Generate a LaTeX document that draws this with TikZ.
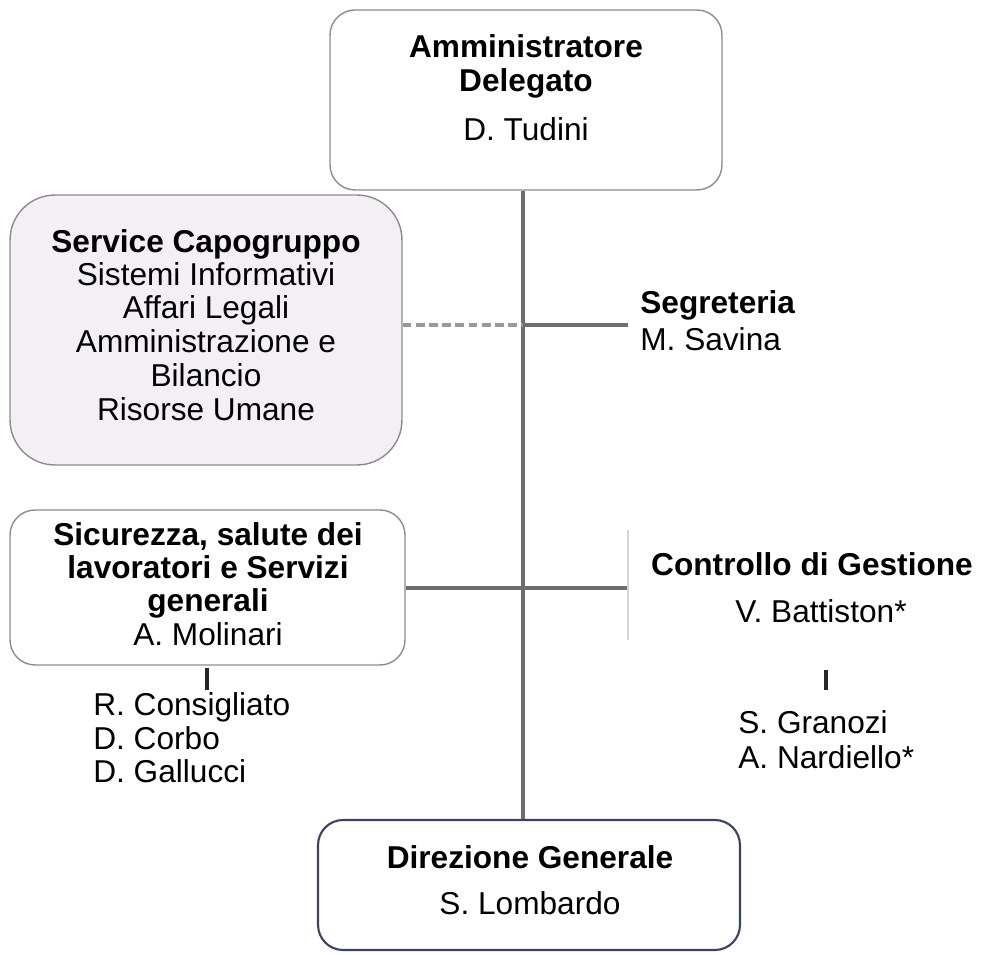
\documentclass[tikz,border=0pt]{standalone}
\usepackage{fontspec}
\setmainfont{Liberation Sans}
\definecolor{linegray}{HTML}{6E6E6E}
\definecolor{boxgray}{HTML}{8C8C8C}
\definecolor{faintgray}{HTML}{D4D4D4}
\definecolor{lav}{HTML}{F3EFF5}
\definecolor{navy}{HTML}{3C4262}
\begin{document}
\begin{tikzpicture}[x=0.02cm,y=-0.02cm,
  orgbox/.style={draw=boxgray, line width=0.8pt, rounded corners=0.5cm, inner sep=0pt},
  lbl/.style={anchor=base, inner sep=0pt, font=\fontsize{18}{19}\selectfont},
  lblb/.style={lbl, font=\fontsize{18}{19}\selectfont\bfseries},
  lbll/.style={lbl, anchor=base west},
  lblbl/.style={lblb, anchor=base west},
  conn/.style={draw=linegray, line width=1.8pt},
  dconn/.style={draw=linegray!70, line width=1.8pt, dash pattern=on 5pt off 2.5pt},
  tick/.style={draw=black!85, line width=2.2pt}]
\useasboundingbox (0,0) rectangle (994,955);

% boxes
\node[orgbox, minimum width=7.84cm, minimum height=3.6cm] (ad) at (526,100) {};
\node[orgbox, fill=lav, rounded corners=0.9cm, minimum width=7.84cm, minimum height=5.4cm] (sc) at (206,330) {};
\node[orgbox, minimum width=7.9cm, minimum height=3.1cm] (si) at (207.5,587.5) {};
\node[orgbox, draw=navy, line width=1.2pt, minimum width=8.44cm, minimum height=2.6cm] (dg) at (529,885) {};

% junctions
\coordinate (jA) at (523,325);
\coordinate (jB) at (523,588);
\coordinate (segL) at (628,325);
\coordinate (cgL) at (628,588);
\coordinate (cgTop) at (628,530);
\coordinate (cgBot) at (628,640);

% connectors
\draw[conn] (ad.south -| jA) -- (dg.north -| jA);
\draw[dconn] (sc.east |- jA) -- (jA);
\draw[conn] (jA) -- (segL);
\draw[conn] (si.east |- jB) -- (cgL);
\draw[draw=faintgray, line width=0.8pt] (cgTop) -- (cgBot);

% Amministratore Delegato
\node[lblb] (ad1) at (526,58) {Amministratore};
\node[lblb] (ad2) at (526,92) {Delegato};
\node[lbl] (ad3) at (526,141) {D. Tudini};

% Service Capogruppo
\node[lblb] (sc1) at (206,253) {Service Capogruppo};
\node[lbl] (sc2) at (206,286) {Sistemi Informativi};
\node[lbl] (sc3) at (206,319) {Affari Legali};
\node[lbl] (sc4) at (206,353) {Amministrazione e};
\node[lbl] (sc5) at (206,387) {Bilancio};
\node[lbl] (sc6) at (206,421) {Risorse Umane};

% Segreteria
\node[lblbl] (sg1) at (640,314) {Segreteria};
\node[lbll] (sg2) at (640,351) {M. Savina};

% Sicurezza
\node[lblb] (si1) at (208,546) {Sicurezza, salute dei};
\node[lblb] (si2) at (208,579) {lavoratori e Servizi};
\node[lblb] (si3) at (208,612) {generali};
\node[lbl] (si4) at (208,646) {A. Molinari};
\coordinate (tkA1) at (207,668);
\coordinate (tkA2) at (207,690);
\draw[tick] (tkA1) -- (tkA2);
\node[lbll] (n1) at (93,716) {R. Consigliato};
\node[lbll] (n2) at (93,749) {D. Corbo};
\node[lbll] (n3) at (93,783) {D. Gallucci};

% Controllo di Gestione
\node[lblb] (cg1) at (812,576) {Controllo di Gestione};
\node[lbl] (cg2) at (821,623) {V. Battiston*};
\coordinate (tkB1) at (826,670);
\coordinate (tkB2) at (826,690);
\draw[tick] (tkB1) -- (tkB2);
\node[lbll] (m1) at (738,734) {S. Granozi};
\node[lbll] (m2) at (738,768) {A. Nardiello*};

% Direzione Generale
\node[lblb] (dg1) at (530,868) {Direzione Generale};
\node[lbl] (dg2) at (530,914) {S. Lombardo};
\end{tikzpicture}
\end{document}
